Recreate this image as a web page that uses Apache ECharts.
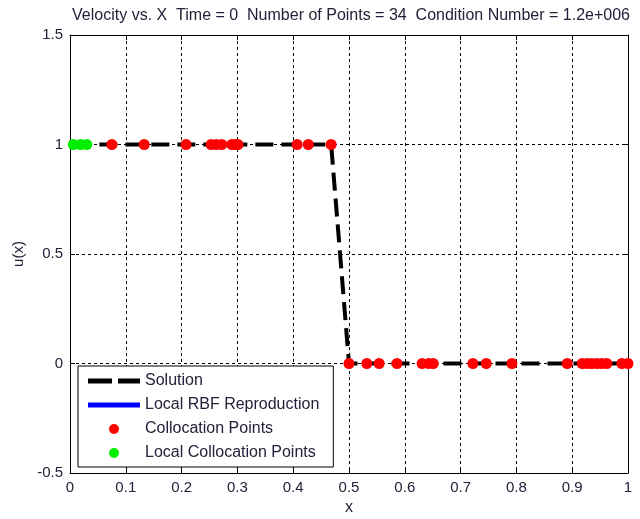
<!DOCTYPE html>
<html>
<head>
<meta charset="utf-8">
<script src="https://cdn.jsdelivr.net/npm/echarts@6/dist/echarts.min.js"></script>
<style>
  html, body { margin: 0; padding: 0; background: #fff; }
  #chart { width: 640px; height: 519px; }
</style>
</head>
<body>
<div id="chart"></div>
<script>
// Collocation point locations and velocities at t = 0
const localX = [0.006, 0.019, 0.030];
const localU = [1, 1, 1];

const collocX = [0.075, 0.133, 0.208, 0.253, 0.262, 0.272, 0.290, 0.296, 0.301, 0.407, 0.427, 0.468,
                 0.500, 0.532, 0.554, 0.586, 0.631, 0.643, 0.651, 0.722, 0.746, 0.792,
                 0.891, 0.918, 0.927, 0.935, 0.944, 0.953, 0.962, 0.989, 1.000];
const collocU = [1, 1, 1, 1, 1, 1, 1, 1, 1, 1, 1, 1,
                 0, 0, 0, 0, 0, 0, 0, 0, 0, 0,
                 0, 0, 0, 0, 0, 0, 0, 0, 0];

// RBF reconstruction is empty at the initial time step
const rbfX = [];
const rbfU = [];

const xTicks = [0, 0.1, 0.2, 0.3, 0.4, 0.5, 0.6, 0.7, 0.8, 0.9, 1];
const yTicks = [-0.5, 0, 0.5, 1, 1.5];

const titleText = 'Velocity vs. X  Time = 0  Number of Points = 34  Condition Number = 1.2e+006';

const pair = (xs, ys) => xs.map((x, i) => [x, ys[i]]);
const solution = pair(localX.concat(collocX), localU.concat(collocU)).sort((a, b) => a[0] - b[0]);

const font = 'Liberation Sans, Arial, sans-serif';
const textColor = '#22223a';

const chart = echarts.init(document.getElementById('chart'), null, { renderer: 'canvas' });

const axisCommon = {
  axisLine: { show: true, onZero: false, lineStyle: { color: '#000', width: 1 } },
  axisTick: { show: true, inside: true, length: 5, lineStyle: { color: '#000' } },
};

chart.setOption({
  animation: false,
  backgroundColor: '#fff',
  title: {
    text: titleText,
    left: 346, top: 3, textAlign: 'center',
    textStyle: { fontFamily: font, fontSize: 16, fontWeight: 'normal', color: textColor }
  },
  grid: { left: 70, right: 12, top: 35, bottom: 46, show: false, outerBoundsMode: 'none', containLabel: false },
  xAxis: [{
    type: 'value', min: 0, max: 1, interval: 0.1, position: 'bottom',
    name: 'x', nameLocation: 'middle', nameGap: 27,
    nameTextStyle: { fontFamily: font, fontSize: 16, color: textColor },
    axisLabel: { fontFamily: font, fontSize: 15, color: textColor, margin: 7 },
    splitLine: { show: true, lineStyle: { color: '#000', type: [3, 3], width: 1 } },
    ...axisCommon
  }, {
    type: 'value', min: 0, max: 1, interval: 0.1, position: 'top',
    axisLabel: { show: false }, splitLine: { show: false },
    ...axisCommon
  }],
  yAxis: [{
    type: 'value', min: -0.5, max: 1.5, interval: 0.5, position: 'left',
    name: 'u(x)', nameLocation: 'middle', nameGap: 44, nameRotate: 90,
    nameTextStyle: { fontFamily: font, fontSize: 15, color: textColor },
    axisLabel: { fontFamily: font, fontSize: 15, color: textColor, margin: 7 },
    splitLine: { show: true, lineStyle: { color: '#000', type: [3, 3], width: 1 } },
    ...axisCommon
  }, {
    type: 'value', min: -0.5, max: 1.5, interval: 0.5, position: 'right',
    axisLabel: { show: false }, splitLine: { show: false },
    ...axisCommon
  }],
  legend: {
    orient: 'vertical',
    left: 78, top: 366,
    padding: [7, 14, 6, 10],
    itemGap: 8,
    itemWidth: 52, itemHeight: 10,
    backgroundColor: '#fff',
    borderColor: '#000', borderWidth: 1,
    textStyle: { fontFamily: font, fontSize: 16, color: textColor },
    data: [
      { name: 'Solution', icon: 'path://M0,0h24v5h-24z M30,0h22v5h-22z', itemStyle: { color: '#000' } },
      { name: 'Local RBF Reproduction', icon: 'path://M0,0h52v5h-52z', itemStyle: { color: '#0000ff' } },
      { name: 'Collocation Points', icon: 'circle' },
      { name: 'Local Collocation Points', icon: 'circle' }
    ]
  },
  series: [
    {
      name: 'Solution', type: 'line', data: solution,
      symbol: 'none', z: 2,
      lineStyle: { color: '#000', width: 4, type: [18, 8] },
      itemStyle: { color: '#000' }
    },
    {
      name: 'Local RBF Reproduction', type: 'line', data: pair(rbfX, rbfU),
      symbol: 'none', z: 3,
      lineStyle: { color: '#0000ff', width: 4 },
      itemStyle: { color: '#0000ff' }
    },
    {
      name: 'Collocation Points', type: 'scatter', data: pair(collocX, collocU),
      symbol: 'circle', symbolSize: 11, z: 4,
      itemStyle: { color: '#ff0000', opacity: 1 }
    },
    {
      name: 'Local Collocation Points', type: 'scatter', data: pair(localX, localU),
      symbol: 'circle', symbolSize: 11, z: 5,
      itemStyle: { color: '#00ee00', opacity: 1 }
    }
  ]
});
</script>
</body>
</html>
